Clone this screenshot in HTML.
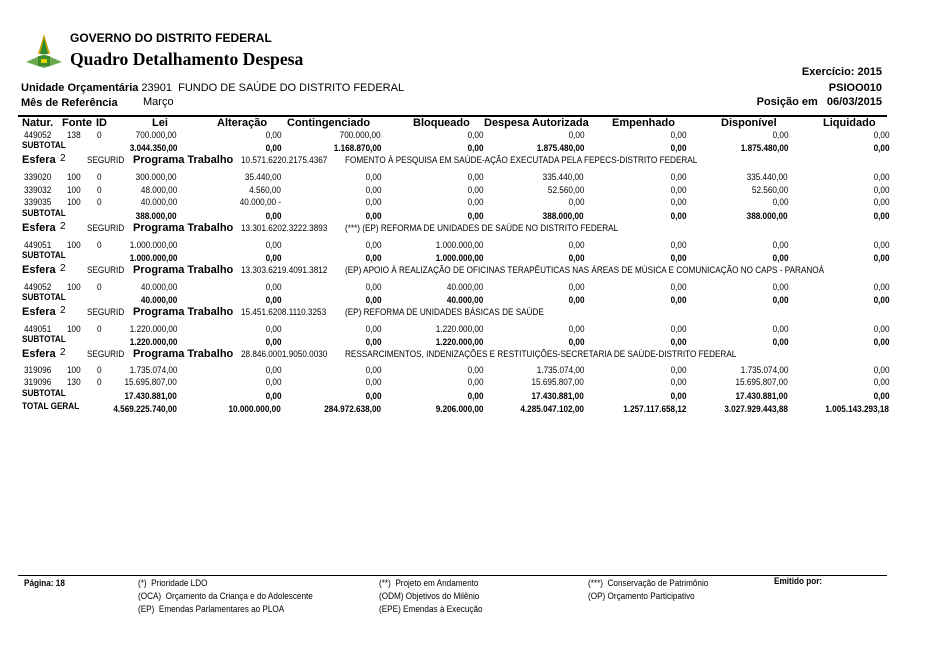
<!DOCTYPE html>
<html><head><meta charset="utf-8">
<style>
body{margin:0;width:926px;height:655px;background:#fff;position:relative;overflow:hidden;font-family:"Liberation Sans",Arial,sans-serif;color:#000}
.a{position:absolute;white-space:nowrap;line-height:1}
.v{position:absolute;white-space:nowrap;line-height:1;font-size:9.5px;transform:scaleX(.86);transform-origin:right center}
.s{position:absolute;white-space:nowrap;line-height:1;font-size:9.5px;transform:scaleX(.86);transform-origin:left center}
.b{font-weight:bold}
.h{position:absolute;font-size:11px;font-weight:bold;white-space:nowrap;line-height:1}
</style></head><body>
<svg class="a" style="left:24px;top:32px" width="40" height="40" viewBox="0 0 40 40">
<polygon points="20,2 14,22 26,22" fill="#c9a400"/><polygon points="20,6 16,22 24,22" fill="#2f8a2f"/>
<polygon points="2,30 20,22 38,30 20,36" fill="#6aa84f"/><rect x="14" y="24" width="12" height="10" fill="#3c8c2c"/><rect x="17" y="27" width="6" height="4" fill="#e6d200"/>
</svg>
<div class="a b" style="left:70px;top:32px;font-size:12px">GOVERNO DO DISTRITO FEDERAL</div>
<div class="a b" style="left:70px;top:51px;font-size:17.6px;font-family:'Liberation Serif',serif">Quadro Detalhamento Despesa</div>
<div class="a b" style="right:44px;top:67px;font-size:11px">Exercício: 2015</div>
<div class="a b" style="right:44px;top:83px;font-size:11px">PSIOO010</div>
<div class="a b" style="right:44px;top:97px;font-size:11px">Posição em &nbsp;&nbsp;06/03/2015</div>
<div class="a" style="left:21px;top:83px;font-size:11px"><b>Unidade Orçamentária</b> 23901&nbsp; FUNDO DE SAÚDE DO DISTRITO FEDERAL</div>
<div class="a" style="left:21px;top:98px;font-size:11px"><b>Mês de Referência</b></div>
<div class="a" style="left:143px;top:97px;font-size:11px">Março</div>
<div class="a" style="left:18px;top:115px;width:869px;height:2px;background:#000"></div>
<div id="tbl"></div>
<div class="a" style="left:18px;top:575px;width:869px;height:1px;background:#000"></div>
<div class="s b" style="left:24px;top:579px">Página: 18</div>
<div class="s" style="left:138px;top:577px;line-height:13px">(*)&nbsp; Prioridade LDO<br>(OCA)&nbsp; Orçamento da Criança e do Adolescente<br>(EP)&nbsp; Emendas Parlamentares ao PLOA</div>
<div class="s" style="left:379px;top:577px;line-height:13px">(**)&nbsp; Projeto em Andamento<br>(ODM) Objetivos do Milênio<br>(EPE) Emendas à Execução</div>
<div class="s" style="left:588px;top:577px;line-height:13px">(***)&nbsp; Conservação de Patrimônio<br>(OP) Orçamento Participativo</div>
<div class="s b" style="left:774px;top:577px">Emitido por:</div>
<script>
const headers=[["Natur.",22],["Fonte",62],["ID",96],["Lei",152],["Alteração",217],["Contingenciado",287],["Bloqueado",413],["Despesa Autorizada",484],["Empenhado",612],["Disponível",721],["Liquidado",823]];
const colRight=[177,281,381,483,584,686,788,889];
const rows=[
["d",131,"449052","138","0",["700.000,00","0,00","700.000,00","0,00","0,00","0,00","0,00","0,00"]],
["t",143,"SUBTOTAL",["3.044.350,00","0,00","1.168.870,00","0,00","1.875.480,00","0,00","1.875.480,00","0,00"]],
["e",155,"10.571.6220.2175.4367","FOMENTO À PESQUISA EM SAÚDE-AÇÃO EXECUTADA PELA FEPECS-DISTRITO FEDERAL"],
["d",173,"339020","100","0",["300.000,00","35.440,00","0,00","0,00","335.440,00","0,00","335.440,00","0,00"]],
["d",186,"339032","100","0",["48.000,00","4.560,00","0,00","0,00","52.560,00","0,00","52.560,00","0,00"]],
["d",198,"339035","100","0",["40.000,00","40.000,00 -","0,00","0,00","0,00","0,00","0,00","0,00"]],
["t",211,"SUBTOTAL",["388.000,00","0,00","0,00","0,00","388.000,00","0,00","388.000,00","0,00"]],
["e",223,"13.301.6202.3222.3893","(***) (EP)  REFORMA DE UNIDADES DE SAÚDE NO DISTRITO FEDERAL"],
["d",241,"449051","100","0",["1.000.000,00","0,00","0,00","1.000.000,00","0,00","0,00","0,00","0,00"]],
["t",253,"SUBTOTAL",["1.000.000,00","0,00","0,00","1.000.000,00","0,00","0,00","0,00","0,00"]],
["e",265,"13.303.6219.4091.3812","(EP)  APOIO À REALIZAÇÃO DE OFICINAS TERAPÊUTICAS NAS ÁREAS DE MÚSICA E COMUNICAÇÃO NO CAPS - PARANOÁ"],
["d",283,"449052","100","0",["40.000,00","0,00","0,00","40.000,00","0,00","0,00","0,00","0,00"]],
["t",295,"SUBTOTAL",["40.000,00","0,00","0,00","40.000,00","0,00","0,00","0,00","0,00"]],
["e",307,"15.451.6208.1110.3253","(EP)  REFORMA DE UNIDADES BÁSICAS DE SAÚDE"],
["d",325,"449051","100","0",["1.220.000,00","0,00","0,00","1.220.000,00","0,00","0,00","0,00","0,00"]],
["t",337,"SUBTOTAL",["1.220.000,00","0,00","0,00","1.220.000,00","0,00","0,00","0,00","0,00"]],
["e",349,"28.846.0001.9050.0030","RESSARCIMENTOS, INDENIZAÇÕES E RESTITUIÇÕES-SECRETARIA DE SAÚDE-DISTRITO FEDERAL"],
["d",366,"319096","100","0",["1.735.074,00","0,00","0,00","0,00","1.735.074,00","0,00","1.735.074,00","0,00"]],
["d",378,"319096","130","0",["15.695.807,00","0,00","0,00","0,00","15.695.807,00","0,00","15.695.807,00","0,00"]],
["t",391,"SUBTOTAL",["17.430.881,00","0,00","0,00","0,00","17.430.881,00","0,00","17.430.881,00","0,00"]],
["t",404,"TOTAL GERAL",["4.569.225.740,00","10.000.000,00","284.972.638,00","9.206.000,00","4.285.047.102,00","1.257.117.658,12","3.027.929.443,88","1.005.143.293,18"]]
];
const T=document.getElementById('tbl');
function add(cls,txt,css){const d=document.createElement('div');d.className=cls;d.textContent=txt;d.style.cssText=css;T.appendChild(d);return d;}
headers.forEach(h=>{const d=add('h',h[0],`left:${h[1]}px;top:118px`);

});
rows.forEach(r=>{
 if(r[0]==='e'){
  const y=r[1];
  let d=add('h','Esfera',`left:22px;top:${y}px`);
  
  
  d=add('a','2',`left:60px;top:${y-1}px;font-size:10px`);
  
  
  d=add('s','SEGURID',`left:87px;top:${y+1}px`);
  
  
  d=add('h','Programa Trabalho',`left:133px;top:${y}px`);
  
  
  d=add('s',r[2],`left:241px;top:${y+1}px`);
  
  
  d=add('s',r[3],`left:345px;top:${y+1}px`);
  
  
 } else if(r[0]==='d'){
  const y=r[1];
  let d=add('s',r[2],`left:24px;top:${y}px`);
  
  
  d=add('s',r[3],`left:67px;top:${y}px`);
  
  
  d=add('s',r[4],`left:97px;top:${y}px`);
  
  
  r[5].forEach((v,i)=>{const c=add('v',v,`right:${926-colRight[i]}px;top:${y}px`);
   
   });
 } else {
  const y=r[1];
  let d=add('s b',r[2],`left:22px;top:${y-2}px`);
  
  
  r[3].forEach((v,i)=>{const c=add('v b',v,`right:${926-colRight[i]}px;top:${y+1}px`);
   
   });
 }
});
</script>
</body></html>
